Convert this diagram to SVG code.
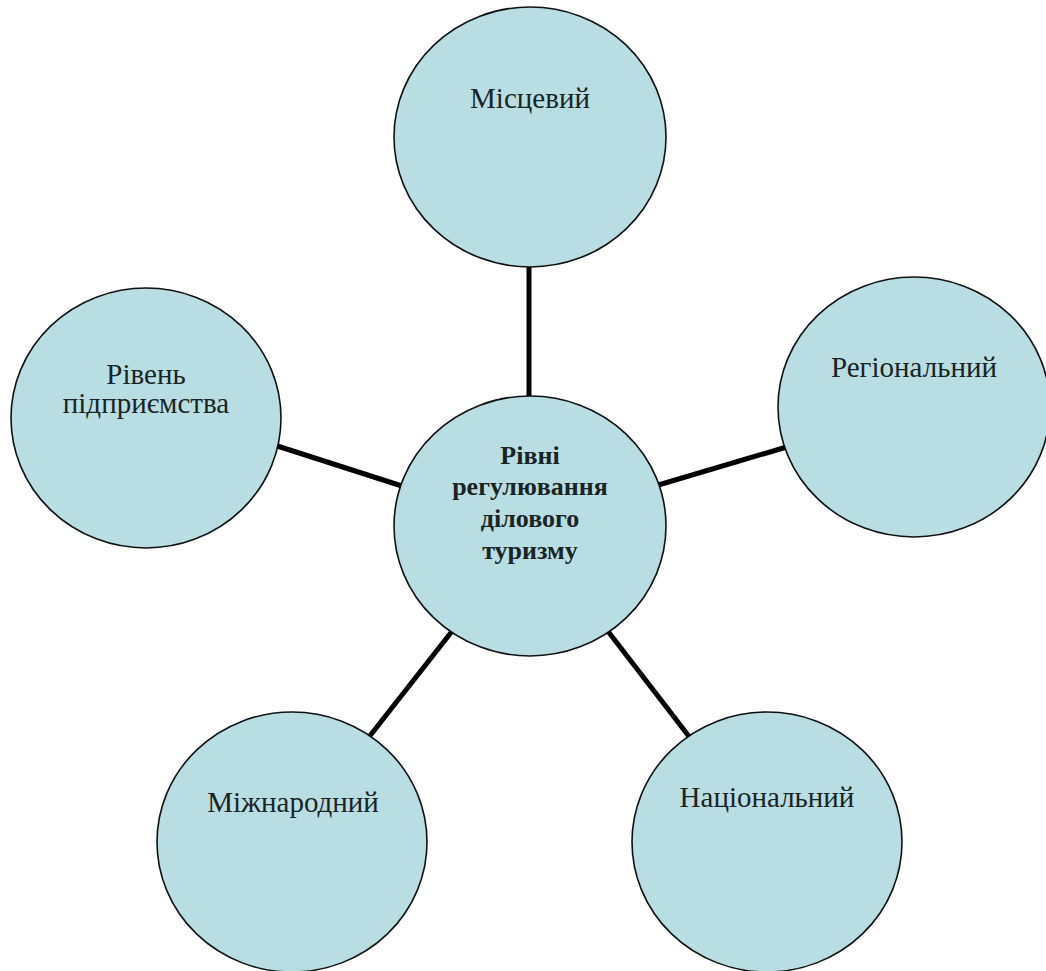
<svg xmlns="http://www.w3.org/2000/svg" width="1046" height="971" viewBox="0 0 1046 971">
<style>
.node{fill:#b8dee3;stroke:#111;stroke-width:1.6}
.lbl{font-family:'Liberation Serif','DejaVu Serif',serif;font-size:29px;fill:#1a2424;text-anchor:middle}
.bold{font-weight:bold;font-size:26px}
.conn{stroke:#000;stroke-width:5;stroke-linecap:butt;fill:none}
</style>
<rect width="1046" height="971" fill="#ffffff"/>
<g id="connectors">
<line class="conn" x1="529" y1="262" x2="529" y2="400"/>
<line class="conn" x1="268" y1="443" x2="405" y2="487"/>
<line class="conn" x1="655" y1="486" x2="790" y2="446"/>
<line class="conn" x1="453" y1="630" x2="369" y2="737"/>
<line class="conn" x1="607" y1="630" x2="691" y2="739"/>
</g>
<g id="n-local">
<ellipse class="node" cx="530" cy="137" rx="136" ry="130"/>
<text class="lbl" x="530" y="108">Місцевий</text>
</g>
<g id="n-center">
<ellipse class="node" cx="530" cy="526" rx="136" ry="130"/>
<text class="lbl bold" x="530" y="464">Рівні</text>
<text class="lbl bold" x="530" y="495">регулювання</text>
<text class="lbl bold" x="530" y="527">ділового</text>
<text class="lbl bold" x="530" y="559">туризму</text>
</g>
<g id="n-regional">
<ellipse class="node" cx="914" cy="407" rx="136" ry="130"/>
<text class="lbl" x="914" y="377">Регіональний</text>
</g>
<g id="n-enterprise">
<ellipse class="node" cx="146" cy="418" rx="135" ry="130"/>
<text class="lbl" x="146" y="384">Рівень</text>
<text class="lbl" x="146" y="413">підприємства</text>
</g>
<g id="n-international">
<ellipse class="node" cx="292" cy="842" rx="135" ry="130"/>
<text class="lbl" x="293" y="812">Міжнародний</text>
</g>
<g id="n-national">
<ellipse class="node" cx="767" cy="842" rx="135" ry="130"/>
<text class="lbl" x="767" y="807">Національний</text>
</g>
</svg>
